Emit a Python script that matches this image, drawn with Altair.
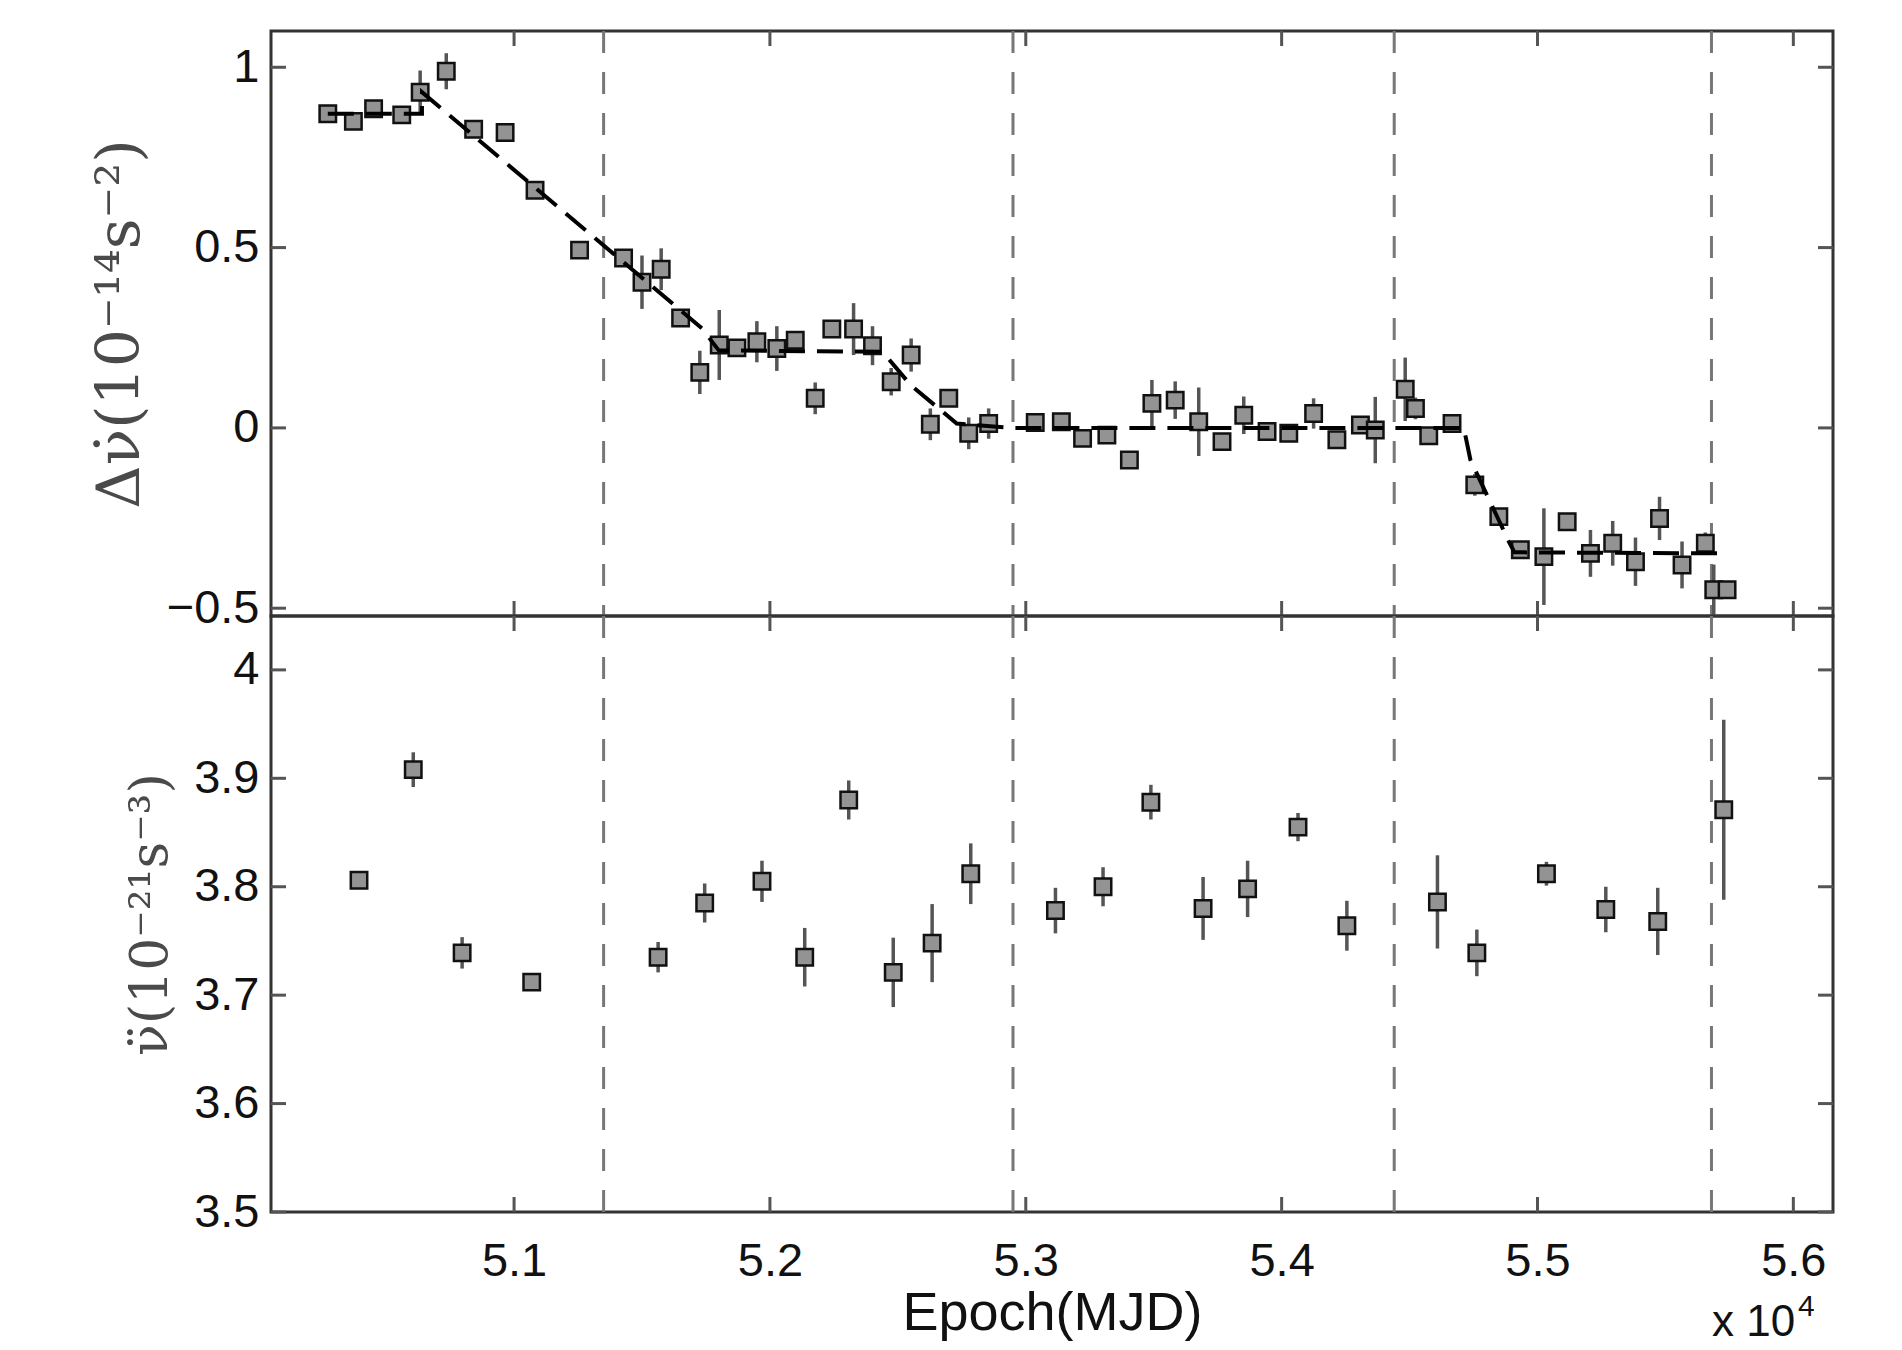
import altair as alt
import pandas as pd

# ---------------- data ----------------
top_mjd = [50272, 50372, 50451, 50561, 50633, 50735, 50842, 50965, 51082, 51256,
           51428, 51500, 51575, 51651, 51726, 51802, 51871, 51949, 52027, 52099,
           52177, 52242, 52327, 52401, 52474, 52552, 52627, 52699, 52777, 52855,
           53037, 53139, 53222, 53317, 53405, 53493, 53584, 53676, 53767, 53852,
           53943, 54028, 54125, 54216, 54308, 54366, 54483, 54523, 54575, 54666,
           54755, 54849, 54933, 55025, 55116, 55207, 55294, 55383, 55477, 55565,
           55656, 55689, 55741]
top_val = [0.871, 0.850, 0.885, 0.868, 0.931, 0.989, 0.828, 0.819, 0.659, 0.493,
           0.471, 0.404, 0.440, 0.305, 0.154, 0.230, 0.222, 0.239, 0.220, 0.243,
           0.082, 0.274, 0.274, 0.228, 0.128, 0.202, 0.010, 0.082, -0.015, 0.012,
           0.015, 0.017, -0.029, -0.020, -0.089, 0.068, 0.077, 0.017, -0.038, 0.035,
           -0.010, -0.015, 0.040, -0.033, 0.008, -0.006, 0.107, 0.054, -0.022, 0.012,
           -0.158, -0.246, -0.338, -0.357, -0.260, -0.348, -0.320, -0.371, -0.251, -0.380,
           -0.320, -0.449, -0.449]
top_err = [0.015, 0.015, 0.015, 0.015, 0.060, 0.050, 0.015, 0.015, 0.015, 0.015,
           0.015, 0.074, 0.058, 0.020, 0.060, 0.097, 0.020, 0.057, 0.062, 0.020,
           0.044, 0.020, 0.072, 0.054, 0.038, 0.046, 0.044, 0.020, 0.044, 0.042,
           0.020, 0.020, 0.020, 0.020, 0.020, 0.065, 0.052, 0.095, 0.020, 0.052,
           0.020, 0.020, 0.042, 0.020, 0.020, 0.092, 0.088, 0.030, 0.020, 0.020,
           0.030, 0.020, 0.020, 0.134, 0.020, 0.065, 0.062, 0.067, 0.060, 0.065,
           0.030, 0.070, 0.020]

bot_mjd = [50394, 50606, 50797, 51069, 51563, 51745, 51969, 52136, 52308, 52482,
           52634, 52785, 53116, 53302, 53489, 53693, 53867, 54064, 54255, 54609,
           54763, 55035, 55267, 55470, 55728]
bot_val = [3.806, 3.908, 3.739, 3.712, 3.735, 3.785, 3.805, 3.735, 3.880, 3.721,
           3.748, 3.812, 3.778, 3.800, 3.878, 3.780, 3.798, 3.855, 3.764, 3.786,
           3.739, 3.812, 3.779, 3.768, 3.871]
bot_err = [0.008, 0.016, 0.0145, 0.006, 0.014, 0.018, 0.019, 0.027, 0.018, 0.032,
           0.036, 0.028, 0.021, 0.018, 0.016, 0.029, 0.026, 0.013, 0.023, 0.043,
           0.0215, 0.011, 0.021, 0.031, 0.083]

fit_mjd = [50272, 50640, 50640, 51734, 51800, 52440, 52550, 52730, 52950, 54712,
           54738, 54888, 54910, 55745]
fit_val = [0.871, 0.871, 0.931, 0.276, 0.215, 0.211, 0.119, 0.012, 0.0, 0.0,
           -0.089, -0.315, -0.345, -0.348]

glitch_mjd = [51350, 52950, 54440, 55680]
x_ticks = [51000, 52000, 53000, 54000, 55000, 56000]
top_yticks = [-0.5, 0, 0.5, 1]
bot_yticks = [3.5, 3.6, 3.7, 3.8, 3.9, 4.0]

# ---------------- layout constants ----------------
W, H1, H2 = 1562, 585, 596
XDOM = [50050, 56155]
TOPDOM = [-0.5216, 1.1006]
BOTDOM = [3.5, 4.0497]
TICK = 15
LABEL_FONT = "Liberation Sans"
TITLE_FONT = "DejaVu Serif"

xscale = alt.Scale(domain=XDOM, nice=False, zero=False)


def panel(mjd, val, err, dom, yticks, height, ytitle, title_x, title_size, bottom, fit=None):
    yscale = alt.Scale(domain=dom, nice=False, zero=False)
    yaxis = alt.Axis(values=yticks, format=".1~f", ticks=False, domain=False, grid=False,
                     labelFont=LABEL_FONT, labelFontSize=47, labelColor="#111",
                     labelPadding=12, title=ytitle, titleFont=TITLE_FONT,
                     titleFontSize=title_size, titleFontWeight="normal", titleColor="#4a4a4a",
                     titleX=title_x, titleY=height / 2, titleAngle=270,
                     titleAlign="center", titleBaseline="middle")
    if bottom:
        xaxis = alt.Axis(values=x_ticks, labelExpr="format(datum.value/10000, '.1f')",
                         ticks=False, domain=False, grid=False, labelFont=LABEL_FONT,
                         labelFontSize=47, labelColor="#111", labelPadding=26,
                         title="Epoch(MJD)", titleFont=LABEL_FONT, titleFontSize=54,
                         titleFontWeight="normal", titleColor="#111", titlePadding=2)
    else:
        xaxis = None

    def X(f):
        return alt.X(f, type="quantitative", scale=xscale, axis=xaxis)

    def Y(f):
        return alt.Y(f, type="quantitative", scale=yscale, axis=yaxis)

    df = pd.DataFrame({"m": mjd, "v": val, "e": err})
    df["lo"] = df["v"] - df["e"]
    df["hi"] = df["v"] + df["e"]

    gl = alt.Chart(pd.DataFrame({"m": glitch_mjd})).mark_rule(
        color="#777", strokeWidth=3, strokeDash=[22, 19]).encode(x=X("m"))

    bars = alt.Chart(df).mark_rule(color="#555", strokeWidth=3.5, clip=True).encode(
        x=X("m"), y=Y("lo"), y2="hi")
    pts = alt.Chart(df).mark_square(size=270, fill="#939393", stroke="#111",
                                    strokeWidth=2.5, opacity=1, fillOpacity=1).encode(
        x=X("m"), y=Y("v"))

    ydf = pd.DataFrame({"v": yticks})
    xdf = pd.DataFrame({"m": x_ticks})
    tick_kw = dict(color="#555", strokeWidth=3)
    yl = alt.Chart(ydf).mark_rule(**tick_kw).encode(y=Y("v"), x=alt.value(0), x2=alt.value(TICK))
    yr = alt.Chart(ydf).mark_rule(**tick_kw).encode(y=Y("v"), x=alt.value(W - TICK), x2=alt.value(W))
    xt = alt.Chart(xdf).mark_rule(**tick_kw).encode(x=X("m"), y=alt.value(0), y2=alt.value(TICK))
    xb = alt.Chart(xdf).mark_rule(**tick_kw).encode(x=X("m"), y=alt.value(height - TICK), y2=alt.value(height))

    layers = [gl, yl, yr, xt, xb, bars, pts]
    if fit is not None:
        fdf = pd.DataFrame({"m": fit[0], "v": fit[1], "i": list(range(len(fit[0])))})
        fl = alt.Chart(fdf).mark_line(color="#000", strokeWidth=4, strokeDash=[26, 12]).encode(
            x=X("m"), y=Y("v"), order=alt.Order("i:Q"))
        layers.append(fl)
    if bottom:
        note = alt.Chart(pd.DataFrame({"t": ["x 10"]})).mark_text(
            font=LABEL_FONT, fontSize=44, color="#111", align="left", baseline="alphabetic").encode(
            text="t:N", x=alt.value(1441), y=alt.value(720))
        sup = alt.Chart(pd.DataFrame({"t": ["4"]})).mark_text(
            font=LABEL_FONT, fontSize=30, color="#111", align="left", baseline="alphabetic").encode(
            text="t:N", x=alt.value(1527), y=alt.value(700))
        layers += [note, sup]
    return alt.layer(*layers).properties(width=W, height=height)


top = panel(top_mjd, top_val, top_err, TOPDOM, top_yticks, H1,
            "\u0394\u03bd\u0307(10\u207b\u00b9\u2074s\u207b\u00b2)", -151, 60, False,
            fit=(fit_mjd, fit_val))
bottom = panel(bot_mjd, bot_val, bot_err, BOTDOM, bot_yticks, H2,
               "\u03bd\u0308(10\u207b\u00b2\u00b9s\u207b\u00b3)", -121, 52, True)

chart = alt.vconcat(top, bottom, spacing=0).properties(
    bounds="flush",
    padding={"left": 80, "top": 20, "right": 10, "bottom": 0},
    background="white",
).configure_view(stroke="#333", strokeWidth=3)

chart.save("out.html", embed_options={"renderer": "svg", "actions": False})
